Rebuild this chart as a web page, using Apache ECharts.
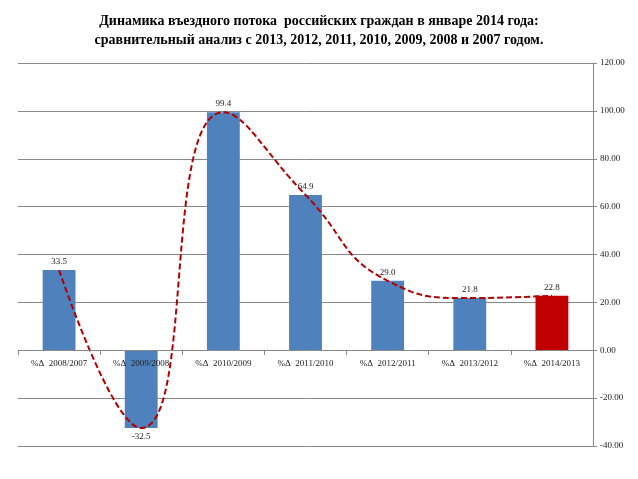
<!DOCTYPE html>
<html lang="ru">
<head>
    <meta charset="UTF-8">
    <title>Динамика въездного потока</title>
    <script src="https://cdn.jsdelivr.net/npm/echarts@6/dist/echarts.min.js"></script>
</head>
<body style="margin:0;background:#fff;">
<div id="main" style="width: 638px;height:479px;"></div>
<script>
    var categories = ['%Δ  2008/2007', '%Δ  2009/2008', '%Δ  2010/2009', '%Δ  2011/2010',
        '%Δ  2012/2011', '%Δ  2013/2012', '%Δ  2014/2013'];
    var growth = [33.5, -32.5, 99.4, 64.9, 29.0, 21.8, 22.8];
    var barColors = ['#4F81BD', '#4F81BD', '#4F81BD', '#4F81BD', '#4F81BD', '#4F81BD', '#C00000'];

    var myChart = echarts.init(document.getElementById('main'));
    var serif = '"Liberation Serif", "DejaVu Serif", serif';

    var option = {
        animation: false,
        title: {
            text: 'Динамика въездного потока  российских граждан в январе 2014 года:\nсравнительный анализ с 2013, 2012, 2011, 2010, 2009, 2008 и 2007 годом.',
            left: 'center',
            top: 7,
            textStyle: {
                fontFamily: serif,
                fontWeight: 'bold',
                fontSize: 14,
                lineHeight: 19,
                color: '#000'
            }
        },
        grid: {
            left: 18,
            right: 45,
            top: 63,
            bottom: 33
        },
        xAxis: {
            type: 'category',
            data: categories,
            // the category axis sits on the zero line (2 of 8 bands above the bottom)
            offset: -96,
            z: 10,
            axisLine: { onZero: false, lineStyle: { color: '#888' } },
            axisTick: { show: true, length: 5, lineStyle: { color: '#888' } },
            axisLabel: {
                fontFamily: serif,
                fontSize: 9,
                color: '#222',
                margin: 9
            }
        },
        yAxis: {
            type: 'value',
            position: 'right',
            min: -40,
            max: 120,
            interval: 20,
            axisLine: { show: true, lineStyle: { color: '#888' } },
            axisTick: { show: true, length: 4, lineStyle: { color: '#888' } },
            splitLine: { lineStyle: { color: '#888', width: 1 } },
            axisLabel: {
                fontFamily: serif,
                fontSize: 9,
                color: '#222',
                margin: 7,
                formatter: function (v) { return v.toFixed(2); }
            }
        },
        series: [
            {
                name: 'Growth',
                type: 'bar',
                barWidth: '40%',
                data: growth.map(function (v, i) {
                    return { value: v, itemStyle: { color: barColors[i] } };
                }),
                label: {
                    show: true,
                    position: 'outside',
                    fontFamily: serif,
                    fontSize: 9,
                    color: '#222',
                    distance: 4,
                    formatter: function (p) { return p.value.toFixed(1); }
                }
            },
            {
                name: 'Trend',
                type: 'line',
                data: growth,
                smooth: 0.5,
                symbol: 'none',
                z: 5,
                lineStyle: {
                    color: '#B00000',
                    width: 2,
                    type: [6, 3]
                }
            }
        ]
    };

    myChart.setOption(option);
</script>
</body>
</html>
